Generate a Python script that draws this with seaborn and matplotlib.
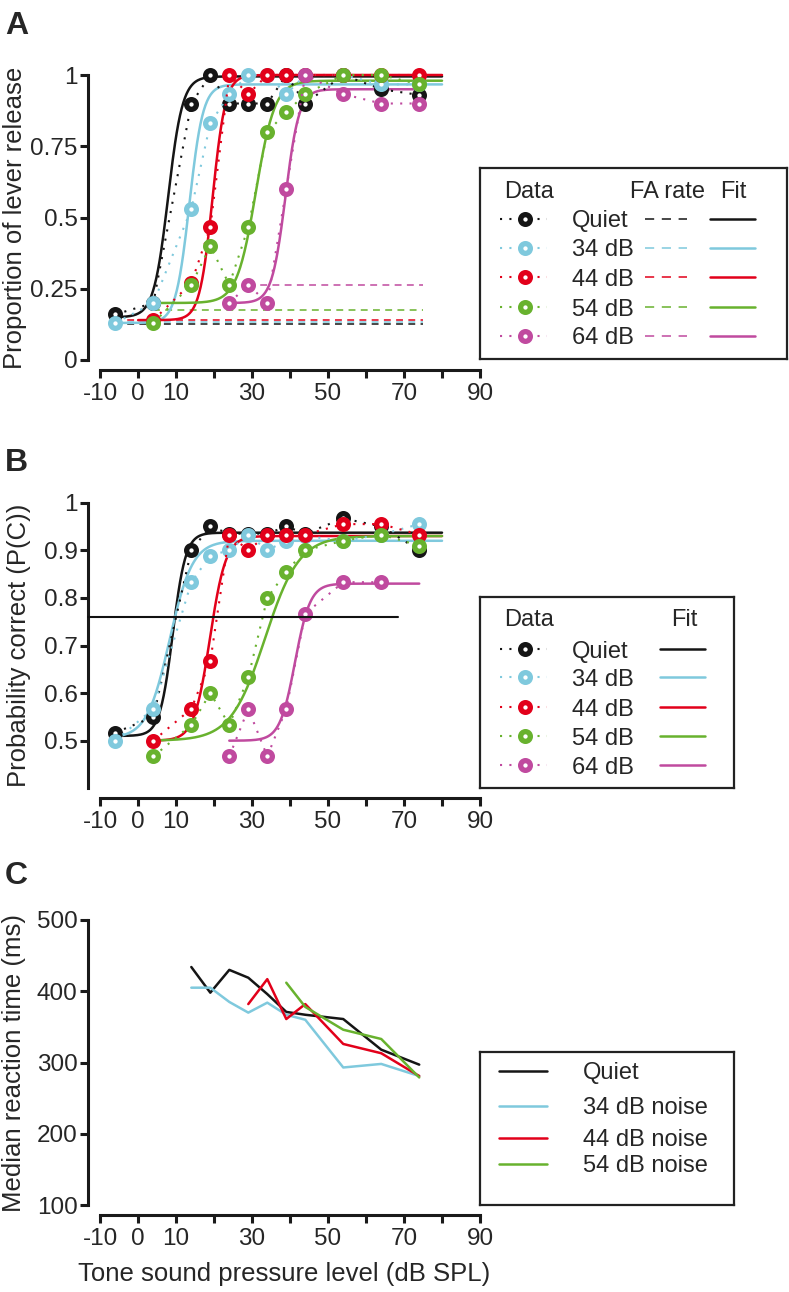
import numpy as np
import pandas as pd
import matplotlib
matplotlib.use("Agg")
import matplotlib.pyplot as plt
import seaborn as sns

W, H = 789, 1292

CONDITIONS = ["Quiet", "34 dB", "44 dB", "54 dB", "64 dB"]
NOISE_LABELS = ["Quiet", "34 dB noise", "44 dB noise", "54 dB noise"]
COLORS = ["#151515", "#7fc9dd", "#e2001a", "#68b22e", "#c04a9f"]

# tone levels (dB SPL)
LEVELS = [-6, 4, 14, 19, 24, 29, 34, 39, 44, 54, 64, 74]
NA = np.nan

# Panel A - proportion of lever release
A_DATA = [
    [0.16, 0.20, 0.90, 1.00, 0.90, 0.90, 0.90, 1.00, 0.90, 1.00, 0.95, 0.93],
    [0.13, 0.20, 0.53, 0.83, 0.933, 1.00, 1.00, 0.933, 1.00, 1.00, 0.967, 0.967],
    [NA, 0.14, 0.27, 0.466, 1.00, 0.933, 1.00, 1.00, 1.00, 1.00, 1.00, 1.00],
    [NA, 0.13, 0.264, 0.40, 0.264, 0.466, 0.80, 0.869, 0.933, 1.00, 1.00, 0.967],
    [NA, NA, NA, NA, 0.20, 0.264, 0.20, 0.60, 1.00, 0.933, 0.90, 0.90],
]
A_FA_RATE = [0.126, 0.133, 0.142, 0.175, 0.263]
A_FA_START = [-6, -6, -6, 4, 29]
A_FA_END = 75
# logistic fit: start, end, floor, ceiling, midpoint, spread
A_FIT_START = [-6, -6, 0, 4, 24]
A_FIT_END = [80, 80, 80, 80, 75]
A_FIT_FLOOR = [0.15, 0.13, 0.14, 0.20, 0.20]
A_FIT_CEIL = [0.995, 0.967, 1.0, 0.98, 0.95]
A_FIT_MID = [7.9, 13.5, 19.6, 31.0, 38.8]
A_FIT_SPREAD = [1.9, 1.8, 1.7, 2.5, 1.8]

# Panel B - probability correct
B_DATA = [
    [0.517, 0.55, 0.90, 0.95, 0.935, 0.935, 0.935, 0.95, 0.935, 0.967, 0.95, 0.90],
    [0.50, 0.567, 0.833, 0.889, 0.90, 0.933, 0.90, 0.92, 0.93, 0.92, 0.933, 0.955],
    [NA, 0.50, 0.567, 0.667, 0.933, 0.90, 0.933, 0.933, 0.933, 0.955, 0.955, 0.933],
    [NA, 0.467, 0.533, 0.60, 0.533, 0.633, 0.80, 0.855, 0.90, 0.92, 0.933, 0.91],
    [NA, NA, NA, NA, 0.467, 0.567, 0.467, 0.567, 0.767, 0.833, 0.833, NA],
]
B_THRESHOLD = 0.76
B_FIT_START = [-6, -6, 4, 5, 24]
B_FIT_END = [80, 80, 80, 80, 74]
B_FIT_FLOOR = [0.51, 0.505, 0.50, 0.50, 0.50]
B_FIT_CEIL = [0.937, 0.92, 0.93, 0.93, 0.83]
B_FIT_MID = [9.1, 8.3, 18.9, 33.4, 41.3]
B_FIT_SPREAD = [1.7, 3.0, 2.1, 4.5, 2.0]

# Panel C - median reaction time (ms)
C_LEVELS = [14, 19, 24, 29, 34, 39, 44, 54, 64, 74]
C_DATA = [
    [434, 398, 430, 419, 396, 371, 367, 361, 318, 297],
    [405, 405, 385, 370, 384, 367, 360, 293, 298, 281],
    [NA, NA, NA, 382, 417, 361, 382, 326, 313, 281],
    [NA, NA, NA, NA, NA, 412, 378, 346, 333, 279],
]

XTICKS = list(range(-10, 100, 10))
XTICKLABELS = ["-10", "0", "10", "", "30", "", "50", "", "70", "", "90"]

FS_TICK = 17.5
FS_LABEL = 18.5
FS_LEG = 17
DOT = (0, (1, 3.5))
DASH = (0, (4.5, 3.5))
SPINE_W = 2.2


def px_axes(fig, left, top, right, bottom):
    return fig.add_axes([left / W, 1 - bottom / H, (right - left) / W, (bottom - top) / H])


def style_axes(ax, ylim, yticks, yticklabels, ylabel, label_x):
    ax.set_xlim(-13.2, 90)
    ax.set_ylim(*ylim)
    sns.despine(ax=ax, offset={"bottom": 7})
    ax.spines["bottom"].set_bounds(-10, 90)
    for side in ("left", "bottom"):
        ax.spines[side].set_linewidth(SPINE_W)
        ax.spines[side].set_color("#1a1a1a")
    ax.set_xticks(XTICKS)
    ax.set_xticklabels(XTICKLABELS)
    ax.set_yticks(yticks)
    ax.set_yticklabels(yticklabels)
    ax.tick_params(width=SPINE_W, length=5.5, labelsize=FS_TICK, color="#1a1a1a")
    ax.tick_params(axis="y", pad=2)
    ax.tick_params(axis="x", pad=4)
    ax.set_xlabel("")
    ax.set_ylabel(ylabel, fontsize=FS_LABEL)
    ax.yaxis.label.set_va("center")
    ax.yaxis.set_label_coords(label_x, 0.5)


def logistic(x, floor, ceil, mid, spread):
    return floor + (ceil - floor) / (1 + np.exp(-(x - mid) / spread))


def draw_psychometric(ax, data, starts, ends, floors, ceils, mids, spreads):
    for i, color in enumerate(COLORS):
        x = np.linspace(starts[i], ends[i], 400)
        y = logistic(x, floors[i], ceils[i], mids[i], spreads[i])
        ax.plot(x, y, color=color, lw=1.8, clip_on=False, zorder=2)
    for i, color in enumerate(COLORS):
        df = pd.DataFrame({"level": LEVELS, "value": data[i]}).dropna()
        sns.lineplot(
            data=df, x="level", y="value", ax=ax, color=color, linestyle=DOT,
            lw=1.5, marker="o", markersize=7, markeredgewidth=3.8,
            markerfacecolor="white", markeredgecolor=color, clip_on=False,
            zorder=3, legend=False,
        )


def ring(ax, x, y, color):
    ax.plot([x], [y], marker="o", markersize=7, markeredgewidth=3.8,
            markerfacecolor="white", markeredgecolor=color, clip_on=False)


def legend_frame(fig, left, top, right, bottom):
    lax = px_axes(fig, left, top, right, bottom)
    lax.set_xlim(left, right)
    lax.set_ylim(bottom, top)
    lax.set_xticks([])
    lax.set_yticks([])
    for s in lax.spines.values():
        s.set_linewidth(1.6)
        s.set_color("#222222")
    return lax


def legend_a(fig):
    lax = legend_frame(fig, 480, 168, 787, 359)
    kw = dict(fontsize=FS_LEG, va="center_baseline")
    lax.text(529, 190, "Data", ha="center", **kw)
    lax.text(667, 190, "FA rate", ha="center", **kw)
    lax.text(733, 190, "Fit", ha="center", **kw)
    for y, cond, color in zip([219, 248, 277, 307, 336], CONDITIONS, COLORS):
        lax.plot([500, 547], [y, y], color=color, lw=1.5, linestyle=DOT)
        ring(lax, 525, y, color)
        lax.text(572, y, cond, ha="left", **kw)
        lax.plot([645, 687], [y, y], color=color, lw=1.1, linestyle=(0, (6, 5)))
        lax.plot([710, 755], [y, y], color=color, lw=1.8)


def legend_b(fig):
    lax = legend_frame(fig, 480, 597, 734, 788)
    kw = dict(fontsize=FS_LEG, va="center_baseline")
    lax.text(529, 618, "Data", ha="center", **kw)
    lax.text(684, 618, "Fit", ha="center", **kw)
    for y, cond, color in zip([649, 677, 707, 736, 765], CONDITIONS, COLORS):
        lax.plot([500, 547], [y, y], color=color, lw=1.5, linestyle=DOT)
        ring(lax, 525, y, color)
        lax.text(572, y, cond, ha="left", **kw)
        lax.plot([660, 705], [y, y], color=color, lw=1.8)


def legend_c(fig):
    lax = legend_frame(fig, 480, 1052, 734, 1205)
    for y, lab, color in zip([1071, 1106, 1138, 1164], NOISE_LABELS, COLORS):
        lax.plot([499, 547], [y, y], color=color, lw=1.8)
        lax.text(583, y - 1, lab, ha="left", va="center_baseline", fontsize=FS_LEG)


def main():
    sns.set_style("ticks")
    plt.rcParams["font.family"] = ["Liberation Sans", "DejaVu Sans"]
    plt.rcParams["axes.unicode_minus"] = False

    fig = plt.figure(figsize=(W / 100, H / 100), dpi=100)

    # Panel A
    ax_a = px_axes(fig, 88, 75, 480, 360)
    draw_psychometric(ax_a, A_DATA, A_FIT_START, A_FIT_END, A_FIT_FLOOR,
                      A_FIT_CEIL, A_FIT_MID, A_FIT_SPREAD)
    for i, color in enumerate(COLORS):
        ax_a.plot([A_FA_START[i], A_FA_END], [A_FA_RATE[i]] * 2, color=color,
                  lw=1.1, linestyle=DASH, zorder=1)
    style_axes(ax_a, (0, 1), [0, 0.25, 0.5, 0.75, 1],
               ["0", "0.25", "0.5", "0.75", "1"],
               "Proportion of lever release", -0.186)

    # Panel B
    ax_b = px_axes(fig, 88, 502.7, 480, 788.3)
    draw_psychometric(ax_b, B_DATA, B_FIT_START, B_FIT_END, B_FIT_FLOOR,
                      B_FIT_CEIL, B_FIT_MID, B_FIT_SPREAD)
    ax_b.plot([-13.2, 68.5], [B_THRESHOLD] * 2, color="#111111", lw=1.5,
              zorder=4, clip_on=False)
    style_axes(ax_b, (0.4, 1.0), [0.5, 0.6, 0.7, 0.8, 0.9, 1.0],
               ["0.5", "0.6", "0.7", "0.8", "0.9", "1"],
               "Probability correct (P(C))", -0.176)

    # Panel C
    ax_c = px_axes(fig, 88, 920, 480, 1205)
    for i, values in enumerate(C_DATA):
        df = pd.DataFrame({"level": C_LEVELS, "rt": values}).dropna()
        sns.lineplot(data=df, x="level", y="rt", ax=ax_c, color=COLORS[i],
                     lw=1.8, legend=False)
    style_axes(ax_c, (100, 500), [100, 200, 300, 400, 500],
               ["100", "200", "300", "400", "500"],
               "Median reaction time (ms)", -0.189)
    ax_c.set_xlabel("Tone sound pressure level (dB SPL)", fontsize=FS_LABEL)
    ax_c.xaxis.set_label_coords(0.5, -0.2)

    legend_a(fig)
    legend_b(fig)
    legend_c(fig)

    for letter, top in (("A", 11), ("B", 448), ("C", 861)):
        fig.text(5 / W, 1 - top / H, letter, fontsize=23, fontweight="bold",
                 ha="left", va="top")

    fig.savefig("out.png", dpi=100)


if __name__ == "__main__":
    main()
